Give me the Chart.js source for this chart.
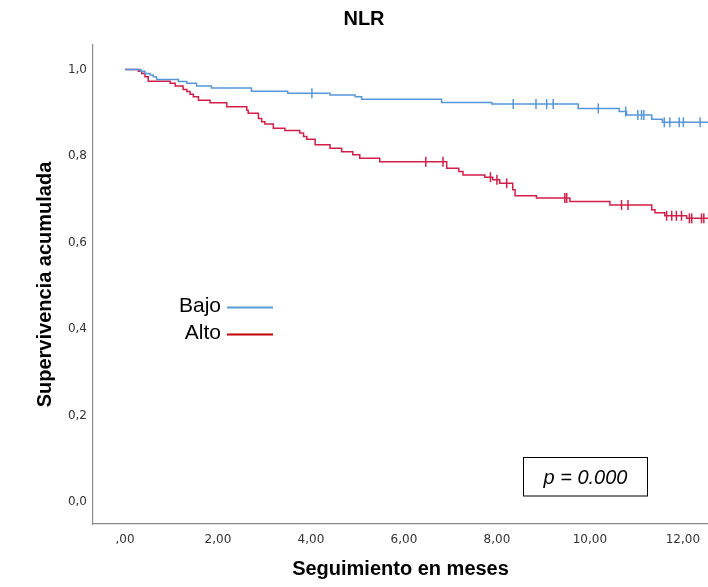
<!DOCTYPE html>
<html>
<head>
<meta charset="utf-8">
<script src="https://cdn.jsdelivr.net/npm/chart.js@4/dist/chart.umd.min.js"></script>
<style>
  html, body { margin: 0; padding: 0; background: #ffffff; }
  #wrap { width: 708px; height: 587px; }
</style>
</head>
<body>
<div id="wrap"><canvas id="km" width="708" height="587"></canvas></div>
<script>
// Kaplan-Meier survival by NLR group (follow-up in months)
const groupNames = ['Bajo', 'Alto'];

// NLR bajo: event times and survival after each event
const bajoTimes = [0.34, 0.43, 0.54, 0.61, 0.68, 1.15, 1.33, 1.54, 1.86, 2.72, 3.50, 4.41, 4.95, 5.09, 6.81, 7.89, 9.75, 10.63, 10.79, 11.33, 11.56];
const bajoSurv  = [0.996, 0.991, 0.987, 0.983, 0.977, 0.972, 0.968, 0.962, 0.957, 0.950, 0.945, 0.941, 0.937, 0.931, 0.924, 0.920, 0.910, 0.903, 0.895, 0.885, 0.878];
const bajoCensored = [4.02, 8.35, 8.84, 9.07, 9.21, 10.18, 10.77, 11.03, 11.11, 11.16, 11.60, 11.72, 11.92, 12.01, 12.37];

// NLR alto: event times and survival after each event
const altoTimes = [0.29, 0.36, 0.43, 0.50, 0.97, 1.08, 1.25, 1.33, 1.40, 1.47, 1.58, 1.83, 2.19, 2.62, 2.65, 2.87, 2.94, 3.01, 3.19, 3.44, 3.76, 3.84, 3.91, 4.09, 4.41, 4.66, 4.90, 5.05, 5.48, 6.92, 7.18, 7.27, 7.74, 7.91, 8.06, 8.34, 8.39, 8.85, 9.57, 10.43, 11.33, 11.40, 11.61, 12.08];
const altoSurv  = [0.996, 0.991, 0.983, 0.973, 0.968, 0.962, 0.954, 0.949, 0.943, 0.937, 0.929, 0.923, 0.914, 0.906, 0.899, 0.887, 0.879, 0.874, 0.864, 0.859, 0.853, 0.845, 0.839, 0.826, 0.818, 0.810, 0.803, 0.795, 0.787, 0.772, 0.764, 0.756, 0.751, 0.745, 0.737, 0.722, 0.708, 0.703, 0.695, 0.687, 0.676, 0.669, 0.662, 0.656];
const altoCensored = [6.47, 6.84, 7.86, 8.00, 8.21, 9.46, 9.50, 10.68, 10.82, 11.65, 11.76, 11.86, 11.97, 12.14, 12.19, 12.40, 12.45];

const followUpEnd = 12.6;

const xTicks = [0, 2, 4, 6, 8, 10, 12];
const xTickLabels = [',00', '2,00', '4,00', '6,00', '8,00', '10,00', '12,00'];
const yTicks = [0, 0.2, 0.4, 0.6, 0.8, 1.0];
const yTickLabels = ['0,0', '0,2', '0,4', '0,6', '0,8', '1,0'];

const pValueText = 'p = 0.000';

const colors = {
  bajo: '#5596dc',
  alto: '#d31f48',
  bajoKey: '#5b9bd5',
  altoKey: '#c00000'
};

// survival value of a step curve at time t
function survivalAt(times, surv, t) {
  let s = 1.0;
  for (let i = 0; i < times.length; i++) {
    if (times[i] <= t) s = surv[i];
  }
  return s;
}

function curvePoints(times, surv) {
  const pts = [{ x: 0, y: 1.0 }];
  times.forEach((t, i) => pts.push({ x: t, y: surv[i] }));
  pts.push({ x: followUpEnd, y: surv[surv.length - 1] });
  return pts;
}

function censorPoints(times, surv, censored) {
  return censored.map(t => ({ x: t, y: survivalAt(times, surv, t) }));
}

// legend drawn as "label ——" pairs inside the plot, plus the p-value box
const annotations = {
  id: 'annotations',
  afterDraw(chart) {
    const { ctx, chartArea } = chart;
    const L = chartArea.left, T = chartArea.top;
    ctx.save();
    ctx.font = '21px "Liberation Sans", Arial, sans-serif';
    ctx.fillStyle = '#000';
    ctx.textAlign = 'right';
    ctx.textBaseline = 'alphabetic';
    const keys = [
      { label: groupNames[0], color: colors.bajoKey, dy: 0 },
      { label: groupNames[1], color: colors.altoKey, dy: 27 }
    ];
    keys.forEach(k => {
      ctx.fillText(k.label, L + 128, T + 267 + k.dy);
      ctx.strokeStyle = k.color;
      ctx.lineWidth = 2;
      ctx.beginPath();
      ctx.moveTo(L + 134, T + 262.5 + k.dy);
      ctx.lineTo(L + 180, T + 262.5 + k.dy);
      ctx.stroke();
    });

    // p-value box
    ctx.strokeStyle = '#000';
    ctx.lineWidth = 1;
    ctx.strokeRect(L + 430.5, T + 412.5, 124, 38.5);
    ctx.font = 'italic 20px "Liberation Sans", Arial, sans-serif';
    ctx.textAlign = 'center';
    ctx.fillText(pValueText, L + 492.5, T + 438.5);
    ctx.restore();
  }
};

new Chart(document.getElementById('km'), {
  type: 'line',
  data: {
    datasets: [
      {
        label: groupNames[0],
        data: curvePoints(bajoTimes, bajoSurv),
        borderColor: colors.bajo,
        borderWidth: 1.5,
        stepped: true,
        pointRadius: 0,
        fill: false
      },
      {
        label: groupNames[1],
        data: curvePoints(altoTimes, altoSurv),
        borderColor: colors.alto,
        borderWidth: 1.5,
        stepped: true,
        pointRadius: 0,
        fill: false
      },
      {
        label: groupNames[0] + ' censurado',
        data: censorPoints(bajoTimes, bajoSurv, bajoCensored),
        showLine: false,
        pointStyle: 'line',
        rotation: 90,
        pointRadius: 5,
        pointBorderWidth: 1.5,
        borderColor: colors.bajo,
        backgroundColor: colors.bajo
      },
      {
        label: groupNames[1] + ' censurado',
        data: censorPoints(altoTimes, altoSurv, altoCensored),
        showLine: false,
        pointStyle: 'line',
        rotation: 90,
        pointRadius: 5,
        pointBorderWidth: 1.5,
        borderColor: colors.alto,
        backgroundColor: colors.alto
      }
    ]
  },
  options: {
    responsive: false,
    devicePixelRatio: 1,
    animation: false,
    events: [],
    layout: { autoPadding: false, padding: { left: 20, right: 0, top: 0, bottom: 0 } },
    plugins: {
      legend: { display: false },
      tooltip: { enabled: false },
      title: {
        display: true,
        text: 'NLR',
        color: '#000',
        font: { family: '"Liberation Sans", Arial, sans-serif', size: 20, weight: 'bold' },
        padding: { top: 7, bottom: 14 }
      }
    },
    scales: {
      x: {
        type: 'linear',
        min: -0.688,
        max: 12.54,
        afterBuildTicks(scale) { scale.ticks = xTicks.map(v => ({ value: v })); },
        afterFit(scale) {
          scale.height = 63;
          scale.paddingLeft = 0;
          scale.paddingRight = 0;
        },
        grid: { display: false, drawTicks: false },
        border: { display: true, color: '#8c8c8c', width: 1.2 },
        ticks: {
          padding: 9,
          color: '#333',
          font: { family: '"DejaVu Sans", Verdana, sans-serif', size: 12 },
          maxRotation: 0,
          callback: (v) => xTickLabels[xTicks.indexOf(v)]
        },
        title: {
          display: true,
          text: 'Seguimiento en meses',
          color: '#000',
          font: { family: '"Liberation Sans", Arial, sans-serif', size: 20, weight: 'bold' },
          padding: { top: 0, bottom: 6 }
        }
      },
      y: {
        type: 'linear',
        min: -0.0503,
        max: 1.0566,
        afterBuildTicks(scale) { scale.ticks = yTicks.map(v => ({ value: v })); },
        afterFit(scale) { scale.width = 73; },
        grid: { display: false, drawTicks: false },
        border: { display: true, color: '#8c8c8c', width: 1.2 },
        ticks: {
          padding: 6,
          color: '#333',
          font: { family: '"DejaVu Sans", Verdana, sans-serif', size: 12 },
          callback: (v) => yTickLabels[yTicks.indexOf(v)]
        },
        title: {
          display: true,
          text: 'Supervivencia acumulada',
          color: '#000',
          font: { family: '"Liberation Sans", Arial, sans-serif', size: 20, weight: 'bold' },
          padding: { top: 13, bottom: 0 }
        }
      }
    }
  },
  plugins: [annotations]
});
</script>
</body>
</html>
